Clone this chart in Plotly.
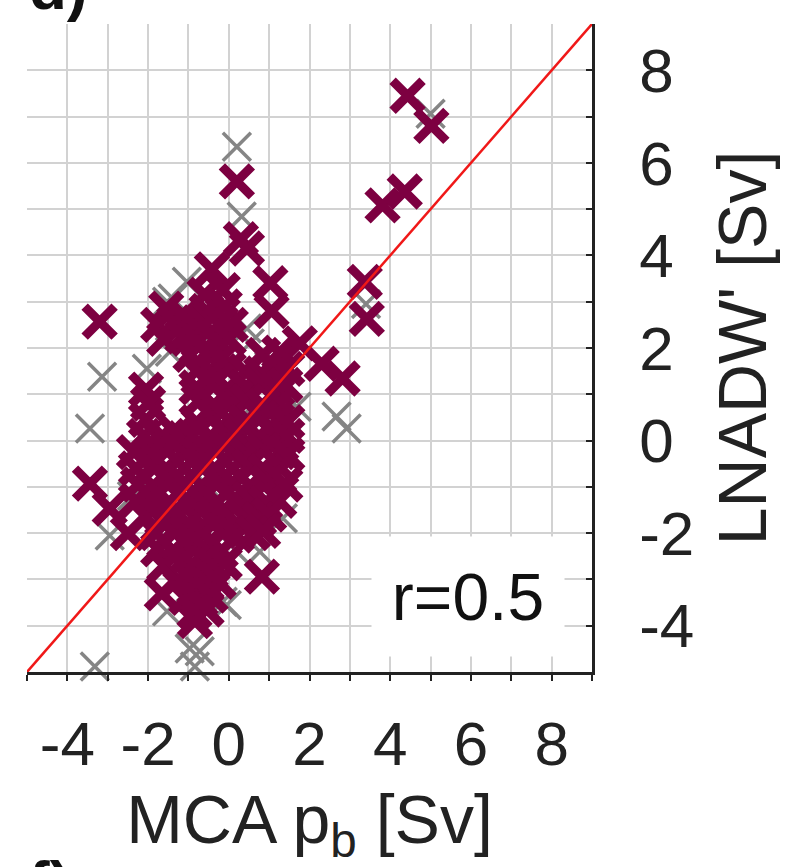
import plotly.graph_objects as go

# MCA-reconstructed p_b against LNADW' anomalies, both in Sverdrup.

# Second ensemble (grey crosses, drawn underneath)
grey_x = [5.0, 3.4, 0.2, 0.32, -3.14, -3.44, -3.32, 2.67, 2.92, 1.68,
          -0.84, -0.97, -0.72, -2.03, -1.53, -1.04, 0.45, -1.46, -2.13, -1.39,
          0.52, 1.34, 1.26, 1.34, 0.77, 0.2, -0.15, -2.95, -1.53, -0.05,
          -0.22, -0.5, 0.3, -1.0, 0.0, -0.3, 0.6, -1.6, -2.4, 1.0]
grey_y = [7.06, 2.95, 6.35, 4.84, 1.38, 0.26, -4.88, 0.52, 0.26, 0.73,
          -4.88, -4.49, -4.55, 1.55, 3.0, 3.43, 2.42, 1.92, 0.1, 3.07,
          2.1, 1.12, 0.04, -1.68, -2.4, -2.4, -3.48, -2.05, -3.69, -3.55,
          -2.45, -1.0, 0.5, -2.0, 1.0, 2.0, -1.5, -0.8, -1.2, 1.6]

# Main ensemble (maroon crosses)
maroon_x = [4.43, 5.02, 3.81, 4.36, 3.37, 3.42, 0.2, 0.3, 0.45, 1.03,
            1.06, -0.42, -3.2, -3.44, 1.76, 2.3, 2.82, 0.82, -0.84, -1.66,
            -2.95, -2.5,
            -0.6, -0.15,
            -1.55, -0.55, -0.1,
            -1.75, -1.35, -1.0, -0.6, -0.2, 0.05,
            -1.6, -1.15, -0.75, -0.35, 0.0,
            -0.95, -0.55, -0.15, 0.85, 1.25,
            -0.8, -0.4, 0.0, 0.4, 0.8, 1.2, 1.45,
            -2.05, -0.8, -0.4, 0.0, 0.4, 0.8, 1.2, 1.4,
            -2.0, -0.75, -0.35, 0.05, 0.45, 0.85, 1.25,
            -2.05, -0.8, -0.4, 0.0, 0.4, 0.8, 1.2, 1.45,
            -2.1, -1.7, -1.3, -0.9, -0.5, -0.1, 0.3, 0.7, 1.1, 1.45,
            -2.35, -1.95, -1.55, -1.15, -0.75, -0.35, 0.05, 0.45, 0.85, 1.25, 1.45,
            -2.3, -1.9, -1.5, -1.1, -0.7, -0.3, 0.1, 0.5, 0.9, 1.3,
            -2.25, -1.85, -1.45, -1.05, -0.65, -0.25, 0.15, 0.55, 0.95, 1.4,
            -2.3, -1.9, -1.5, -1.1, -0.7, -0.3, 0.1, 0.5, 0.9, 1.25,
            -2.05, -1.65, -1.25, -0.85, -0.45, -0.05, 0.35, 0.75, 1.0,
            -1.8, -1.4, -1.0, -0.6, -0.2, 0.2, 0.6, 0.85,
            -1.75, -1.35, -0.95, -0.55, -0.2,
            -1.6, -1.2, -0.8, -0.4, -0.1,
            -1.3, -0.95, -0.55, -0.25,
            -1.05, -0.7, -0.45,
            -0.85, -0.55]
maroon_y = [7.45, 6.8, 5.08, 5.38, 3.43, 2.63, 5.6, 4.35, 4.15, 3.4,
            2.8, 3.7, 2.57, -0.93, 2.1, 1.66, 1.34, -2.94, -3.9, -3.3,
            -1.47, -2.0,
            3.15, 3.25,
            2.85, 2.8, 2.9,
            2.5, 2.55, 2.6, 2.5, 2.55, 2.5,
            2.2, 2.25, 2.15, 2.2, 2.2,
            1.85, 1.9, 1.8, 1.85, 1.9,
            1.5, 1.45, 1.55, 1.5, 1.45, 1.5, 1.55,
            1.1, 1.15, 1.2, 1.1, 1.15, 1.2, 1.1, 1.2,
            0.8, 0.85, 0.75, 0.8, 0.85, 0.75, 0.8,
            0.45, 0.4, 0.5, 0.45, 0.4, 0.5, 0.45, 0.4,
            0.1, 0.05, 0.15, 0.1, 0.05, 0.15, 0.1, 0.05, 0.15, 0.1,
            -0.25, -0.3, -0.2, -0.25, -0.3, -0.2, -0.25, -0.3, -0.2, -0.25, -0.3,
            -0.6, -0.55, -0.65, -0.6, -0.55, -0.65, -0.6, -0.55, -0.65, -0.6,
            -0.95, -1.0, -0.9, -0.95, -1.0, -0.9, -0.95, -1.0, -0.9, -0.95,
            -1.3, -1.25, -1.35, -1.3, -1.25, -1.35, -1.3, -1.25, -1.35, -1.3,
            -1.65, -1.7, -1.6, -1.65, -1.7, -1.6, -1.65, -1.7, -1.6,
            -2.0, -1.95, -2.05, -2.0, -1.95, -2.05, -2.0, -1.95,
            -2.35, -2.4, -2.3, -2.35, -2.4,
            -2.7, -2.65, -2.75, -2.7, -2.65,
            -3.05, -3.0, -3.1, -3.05,
            -3.4, -3.45, -3.35,
            -3.7, -3.65]

# 1:1 line across the full axis range
one_to_one = [-5, 9]

axis_range = [-5, 9]
tick_vals = list(range(-5, 10))
tick_text = ["", "-4", "", "-2", "", "0", "", "2", "", "4", "", "6", "", "8", ""]
corr_label = "r=0.5"

FONT = "Liberation Sans, Arial, Helvetica, sans-serif"
GRID = "#d2d2d2"

fig = go.Figure()

fig.add_trace(go.Scatter(
    x=grey_x, y=grey_y, mode="markers", cliponaxis=False,
    marker=dict(symbol="x-thin-open", size=28, color="#858585",
                line=dict(color="#858585", width=3.5)),
    showlegend=False, hoverinfo="skip"))

fig.add_trace(go.Scatter(
    x=maroon_x, y=maroon_y, mode="markers", cliponaxis=False,
    marker=dict(symbol="x-thin-open", size=30, color="#7d0041",
                line=dict(color="#7d0041", width=9)),
    showlegend=False, hoverinfo="skip"))

fig.add_trace(go.Scatter(
    x=one_to_one, y=one_to_one, mode="lines",
    line=dict(color="#f01818", width=2.5),
    showlegend=False, hoverinfo="skip"))

fig.add_annotation(
    x=5.92, y=-3.37, xref="x", yref="y", text=corr_label, showarrow=False,
    font=dict(family=FONT, size=66, color="#111111"),
    bgcolor="white", width=190, height=117, align="center")

fig.add_annotation(
    x=0.0, y=1.0, xref="paper", yref="paper", xanchor="left", yanchor="bottom",
    text="<b>d)</b>", showarrow=False,
    font=dict(family=FONT, size=62, color="#111111"))

fig.add_annotation(
    x=0.0, y=-0.268, xref="paper", yref="paper", xanchor="left", yanchor="top",
    text="<b>f)</b>", showarrow=False,
    font=dict(family=FONT, size=62, color="#111111"))

fig.update_layout(
    width=785, height=867,
    margin=dict(l=27, r=193, t=24, b=195),
    paper_bgcolor="white", plot_bgcolor="white",
    font=dict(family=FONT, color="#222222"),
)

fig.update_xaxes(
    range=axis_range, tickmode="array", tickvals=tick_vals, ticktext=tick_text,
    ticks="outside", ticklen=6, tickwidth=1.5, tickcolor="#222222",
    showgrid=True, gridcolor=GRID, gridwidth=1.5, zeroline=False,
    showline=True, linecolor="#222222", linewidth=2.5, mirror=False,
    tickfont=dict(family=FONT, size=62, color="#222222"),
    ticklabelstandoff=10,
    title=dict(text="MCA p<sub>b</sub> [Sv]", standoff=28,
               font=dict(family=FONT, size=68, color="#222222")),
)

fig.update_yaxes(
    range=axis_range, side="right", tickmode="array", tickvals=tick_vals,
    ticktext=tick_text,
    ticks="inside", ticklen=6, tickwidth=1.5, tickcolor="#222222",
    showgrid=True, gridcolor=GRID, gridwidth=1.5, zeroline=False,
    showline=True, linecolor="#222222", linewidth=2.5, mirror=False,
    tickfont=dict(family=FONT, size=62, color="#222222"),
    ticklabelstandoff=32,
    title=dict(text="LNADW' [Sv]", standoff=26,
               font=dict(family=FONT, size=68, color="#222222")),
)

fig.write_html("out.html")
